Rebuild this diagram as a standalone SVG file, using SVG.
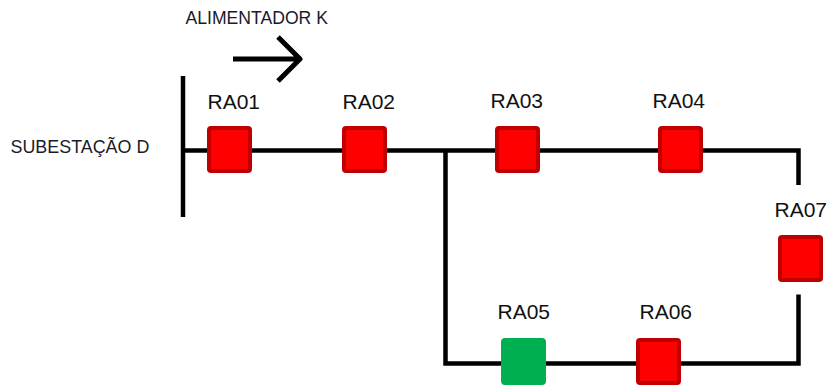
<svg xmlns="http://www.w3.org/2000/svg" width="829" height="385" viewBox="0 0 829 385">
<style>
.l{fill:none;stroke:#000;stroke-width:4.5}
.r{fill:#f00;stroke:#c00000;stroke-width:4}
.g{fill:#00b050;stroke:#00b050;stroke-width:4}
text{font-family:"Liberation Sans",Arial,sans-serif;fill:#111}
.t{font-size:21px}
.s{font-size:17.600px;fill:#1a1a2a}
</style>
<rect width="829" height="385" fill="#fff"/>
<g id="connectors">
<path class="l" d="M183 76V217"/>
<path class="l" d="M183 150.500H798.500V185"/>
<path class="l" d="M445.500 150.500V363.500H798.500V294.500"/>
<path class="l" style="stroke-width:5" stroke-linejoin="round" stroke-linecap="butt" d="M233 59H300M278 37L300 59L278 81"/>
</g>
<g id="RA01"><rect class="r" x="209" y="128" width="41" height="43" rx="2"/><text class="t" x="207.500" y="109">RA01</text></g>
<g id="RA02"><rect class="r" x="344" y="128" width="41" height="43" rx="2"/><text class="t" x="342.500" y="109">RA02</text></g>
<g id="RA03"><rect class="r" x="497" y="128" width="41" height="43" rx="2"/><text class="t" x="490.500" y="108">RA03</text></g>
<g id="RA04"><rect class="r" x="660" y="128" width="41" height="43" rx="2"/><text class="t" x="652.500" y="108">RA04</text></g>
<g id="RA05"><rect class="g" x="503" y="340" width="41" height="43" rx="2"/><text class="t" x="497.500" y="319">RA05</text></g>
<g id="RA06"><rect class="r" x="638" y="340" width="41" height="43" rx="2"/><text class="t" x="639.500" y="319">RA06</text></g>
<g id="RA07"><rect class="r" x="780" y="237" width="41" height="43" rx="2"/><text class="t" x="774.500" y="217">RA07</text></g>
<g id="labels">
<text class="s" x="185.500" y="24">ALIMENTADOR K</text>
<text class="s" style="font-size:17.900px" x="10.500" y="153">SUBESTAÇÃO D</text>
</g>
</svg>
